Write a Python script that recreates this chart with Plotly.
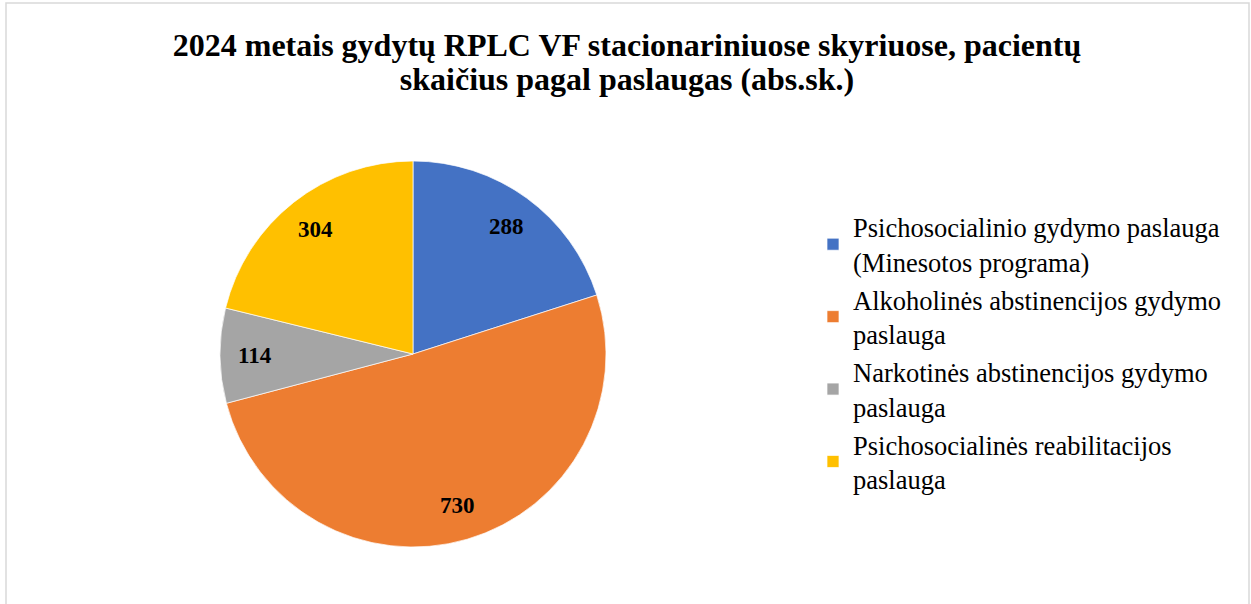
import math
import plotly.graph_objects as go

labels = [
    "Psichosocialinio gydymo paslauga<br>(Minesotos programa)",
    "Alkoholinės abstinencijos gydymo<br>paslauga",
    "Narkotinės abstinencijos gydymo<br>paslauga",
    "Psichosocialinės reabilitacijos<br>paslauga",
]
values = [288, 730, 114, 304]
colors = ["#4472C4", "#ED7D31", "#A5A5A5", "#FFC000"]
title_lines = ["2024 metais gydytų RPLC VF stacionariniuose skyriuose, pacientų",
               "skaičius pagal paslaugas (abs.sk.)"]

W, H = 1251, 604
cx, cy, R = 413, 354, 193
FONT = "Liberation Serif, Times New Roman, serif"


def big(s, px):
    return f"<span style='font-size:{px}px'>{s}</span>"


legend_labels = ["<br>".join(big(part, 26.5) for part in lab.split("<br>")) for lab in labels]

fig = go.Figure()
fig.add_trace(go.Pie(
    labels=legend_labels,
    values=values,
    sort=False,
    direction="clockwise",
    rotation=0,
    marker=dict(colors=colors, line=dict(color="white", width=0.7)),
    textinfo="none",
    hoverinfo="label+value",
    domain=dict(x=[(cx - R) / W, (cx + R) / W], y=[(H - cy - R) / H, (H - cy + R) / H]),
    showlegend=True,
))

# data labels placed at the middle of each slice, 0.82 of radius
total = sum(values)
cum = 0
annotations = []
for v in values:
    mid = (cum + v / 2) / total * 2 * math.pi
    cum += v
    px = cx + 0.82 * R * math.sin(mid)
    py = cy - 0.82 * R * math.cos(mid)
    annotations.append(dict(
        x=px / W, y=1 - py / H, xref="paper", yref="paper",
        text=f"<b>{v}</b>", showarrow=False,
        font=dict(family=FONT, size=23, color="black"),
        xanchor="center", yanchor="middle",
    ))

title_html = "<br>".join(big(f"<b>{t}</b>", 32) for t in title_lines)

fig.update_layout(
    width=W, height=H,
    margin=dict(l=0, r=0, t=0, b=0, autoexpand=False),
    paper_bgcolor="white",
    plot_bgcolor="white",
    title=dict(
        text=title_html,
        x=627 / W, xanchor="center",
        y=1 - 56 / H, yanchor="middle",
        font=dict(family=FONT, size=26, color="black"),
    ),
    legend=dict(
        x=813 / W, xanchor="left",
        y=1 - 203 / H, yanchor="top",
        font=dict(family=FONT, size=26.7, color="black"),
        bgcolor="rgba(0,0,0,0)",
    ),
    annotations=annotations,
    shapes=[dict(
        type="rect", xref="paper", yref="paper",
        x0=6 / W, x1=1249 / W, y0=-0.2, y1=1 - 3 / H,
        line=dict(color="#D9D9D9", width=1.5), fillcolor="rgba(0,0,0,0)", layer="below",
    )],
)

fig.write_html(
    "out.html",
    config={"displayModeBar": False},
    post_script="document.body.style.margin='0';document.body.style.overflow='hidden';",
)
